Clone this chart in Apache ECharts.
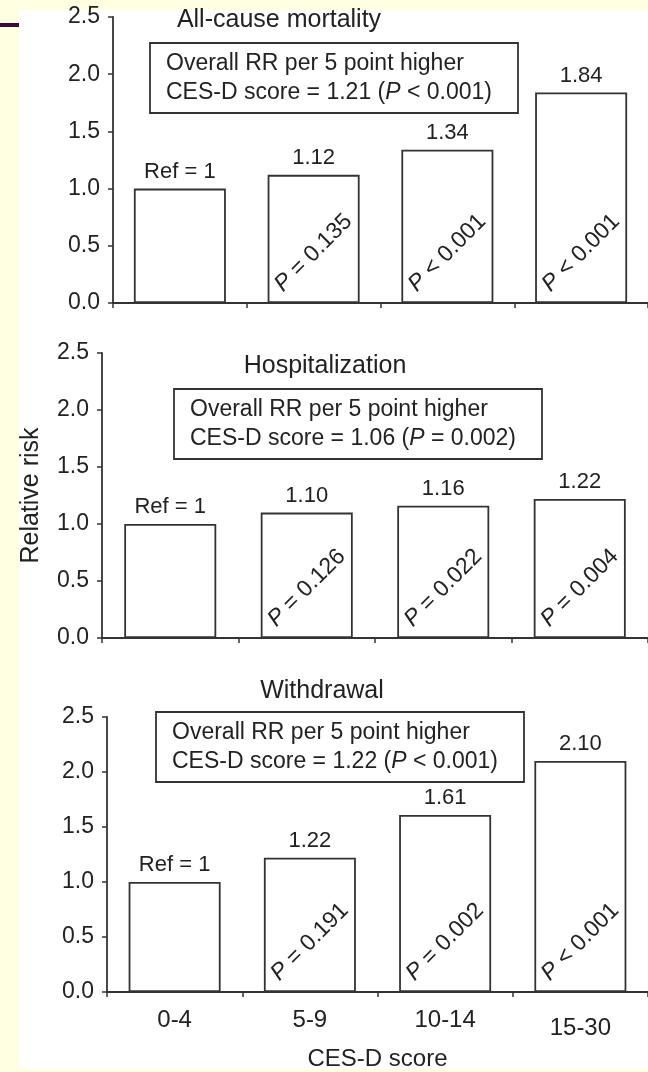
<!DOCTYPE html>
<html>
<head>
<meta charset="utf-8">
<script src="https://cdn.jsdelivr.net/npm/echarts@6/dist/echarts.min.js"></script>
<style>
  html, body { margin:0; padding:0; width:648px; height:1072px; overflow:hidden; background:#FFFFE2; }
  #panel { position:absolute; left:19px; top:10px; width:629px; height:1059px; background:#ffffff; }
  #bar { position:absolute; left:0; top:23px; width:19px; height:4px; background:#3a0a3a; }
  #chart { position:absolute; left:0; top:0; width:648px; height:1072px; }
</style>
</head>
<body>
<div id="panel"></div>
<div id="bar"></div>
<div id="chart"></div>
<script>
// ---- data ----
const categories = ['0-4', '5-9', '10-14', '15-30'];
const panelTitles = ['All-cause mortality', 'Hospitalization', 'Withdrawal'];

const mortality = [1.00, 1.12, 1.34, 1.84];
const hospitalization = [1.00, 1.10, 1.16, 1.22];
const withdrawal = [1.00, 1.22, 1.61, 2.10];

const mortalityLabels = ['Ref = 1', '1.12', '1.34', '1.84'];
const hospitalizationLabels = ['Ref = 1', '1.10', '1.16', '1.22'];
const withdrawalLabels = ['Ref = 1', '1.22', '1.61', '2.10'];

const mortalityPOp = ['', '=', '<', '<'];
const mortalityPVal = ['', '0.135', '0.001', '0.001'];
const hospitalizationPOp = ['', '=', '=', '='];
const hospitalizationPVal = ['', '0.126', '0.022', '0.004'];
const withdrawalPOp = ['', '=', '=', '<'];
const withdrawalPVal = ['', '0.191', '0.002', '0.001'];

const overallRR = ['1.21', '1.06', '1.22'];
const overallPOp = ['<', '=', '<'];
const overallPVal = ['0.001', '0.002', '0.001'];

const yMin = 0, yMax = 2.5, yStep = 0.5;
const yAxisName = 'Relative risk';
const xAxisName = 'CES-D score';

// ---- layout ----
const FONT = '"Liberation Sans", Arial, Helvetica, sans-serif';
const INK = '#222';
const LINE = '#333';

const grids = [
  { left: 113, top: 17, width: 548, height: 286 },
  { left: 102, top: 353, width: 549, height: 285 },
  { left: 107, top: 717, width: 548, height: 278 }
];
const headingPos = [[279, 20], [325, 366], [322, 691]];
const boxPos = [[150, 43], [174, 389], [156, 712]];

const values = [mortality, hospitalization, withdrawal];
const valueLabels = [mortalityLabels, hospitalizationLabels, withdrawalLabels];
const pOps = [mortalityPOp, hospitalizationPOp, withdrawalPOp];
const pVals = [mortalityPVal, hospitalizationPVal, withdrawalPVal];

const italicRich = { i: { fontStyle: 'italic', fontFamily: FONT, fontSize: 23, color: INK } };

const xAxes = [], yAxes = [], series = [], titles = [], graphics = [];

for (let k = 0; k < 3; k++) {
  const last = k === 2;
  xAxes.push({
    type: 'category', gridIndex: k, data: categories,
    boundaryGap: true,
    axisLine: { show: true, lineStyle: { color: LINE, width: 1.8 } },
    axisTick: { show: true, inside: false, length: 5, interval: 0, lineStyle: { color: LINE, width: 1.5 } },
    axisLabel: last ? {
      show: true, margin: 16, fontSize: 24, color: INK, fontFamily: FONT, interval: 0,
      formatter: (v, i) => i === 3 ? '{low|' + v + '}' : v,
      rich: { low: { fontSize: 24, fontFamily: FONT, color: INK, padding: [8, 0, 0, 0] } }
    } : { show: false },
    name: last ? xAxisName : '',
    nameLocation: 'middle', nameGap: 55,
    nameTextStyle: { fontSize: 24, color: INK, fontFamily: FONT },
    splitLine: { show: false }
  });
  yAxes.push({
    type: 'value', gridIndex: k, min: yMin, max: yMax, interval: yStep,
    axisLine: { show: true, lineStyle: { color: LINE, width: 1.8 } },
    axisTick: { show: true, inside: false, length: 5, lineStyle: { color: LINE, width: 1.5 } },
    axisLabel: { margin: 13, fontSize: 23, color: INK, fontFamily: FONT, formatter: v => v.toFixed(1) },
    splitLine: { show: false },
    name: k === 1 ? yAxisName : '',
    nameLocation: 'middle', nameGap: 58, nameRotate: 90,
    nameTextStyle: { fontSize: 25, color: INK, fontFamily: FONT }
  });
  const labs = valueLabels[k];
  series.push({
    type: 'bar', xAxisIndex: k, yAxisIndex: k, data: values[k],
    barWidth: 92,
    itemStyle: { color: '#ffffff', borderColor: LINE, borderWidth: 1.8 },
    label: {
      show: true, position: 'top', distance: 6,
      fontSize: 22, color: INK, fontFamily: FONT,
      formatter: p => labs[p.dataIndex]
    },
    silent: true, z: 2
  });
  const ops = pOps[k], vals = pVals[k];
  series.push({
    type: 'bar', xAxisIndex: k, yAxisIndex: k, data: values[k],
    barWidth: 92, barGap: '-100%',
    itemStyle: { color: 'rgba(0,0,0,0)', borderWidth: 0 },
    label: {
      show: true, position: 'insideBottom', distance: 50, rotate: 45,
      align: 'center', verticalAlign: 'middle',
      fontSize: 23, color: INK, fontFamily: FONT,
      formatter: p => ops[p.dataIndex] ? '{i|P} ' + ops[p.dataIndex] + ' ' + vals[p.dataIndex] : '',
      rich: italicRich
    },
    silent: true, z: 3
  });
  titles.push({
    text: 'Overall RR per 5 point higher\nCES-D score = ' + overallRR[k] + ' ({i|P} ' + overallPOp[k] + ' ' + overallPVal[k] + ')',
    left: boxPos[k][0], top: boxPos[k][1],
    padding: [6, 26, 6, 16],
    borderColor: LINE, borderWidth: 1.8, backgroundColor: '#ffffff',
    textStyle: {
      fontSize: 23, fontWeight: 'normal', color: INK, fontFamily: FONT, lineHeight: 29,
      rich: { i: { fontStyle: 'italic', fontSize: 23, fontFamily: FONT, color: INK, lineHeight: 29 } }
    }
  });
  graphics.push({
    type: 'text', x: headingPos[k][0], y: headingPos[k][1],
    style: { text: panelTitles[k], fontSize: 25, fontFamily: FONT, fill: INK, align: 'center', verticalAlign: 'middle' }
  });
}

const chart = echarts.init(document.getElementById('chart'), null, { renderer: 'canvas' });
chart.setOption({
  backgroundColor: 'transparent',
  animation: false,
  title: titles,
  grid: grids,
  xAxis: xAxes,
  yAxis: yAxes,
  series: series,
  graphic: graphics
});
</script>
</body>
</html>
